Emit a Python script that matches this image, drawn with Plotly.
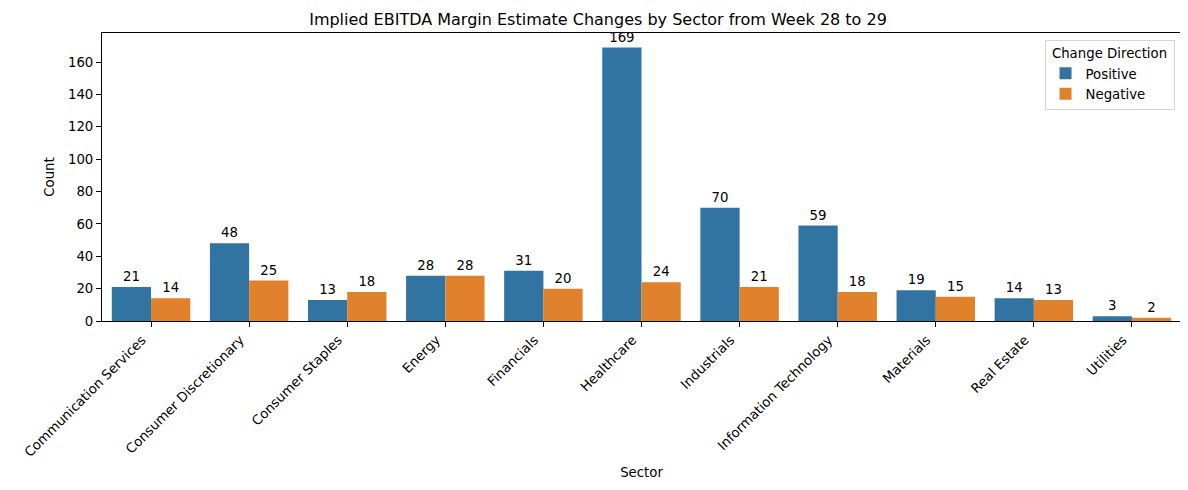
import plotly.graph_objects as go

sectors = ["Communication Services", "Consumer Discretionary", "Consumer Staples", "Energy",
           "Financials", "Healthcare", "Industrials", "Information Technology",
           "Materials", "Real Estate", "Utilities"]
positive = [21, 48, 13, 28, 31, 169, 70, 59, 19, 14, 3]
negative = [14, 25, 18, 28, 20, 24, 21, 18, 15, 13, 2]
y_ticks = [0, 20, 40, 60, 80, 100, 120, 140, 160]

FONT = "DejaVu Sans"
FS = 13.3
fig = go.Figure()
fig.add_trace(go.Bar(x=sectors, y=positive, name="Positive", marker_color="#3274a1",
                     marker_line_width=0, text=positive, textposition="outside",
                     textfont=dict(size=FS, color="black"), cliponaxis=False))
fig.add_trace(go.Bar(x=sectors, y=negative, name="Negative", marker_color="#e1812c",
                     marker_line_width=0, text=negative, textposition="outside",
                     textfont=dict(size=FS, color="black"), cliponaxis=False))

fig.update_layout(
    width=1180, height=482,
    margin=dict(l=93.5, r=6.5, t=25, b=169, autoexpand=False),
    paper_bgcolor="white", plot_bgcolor="white",
    font=dict(family=FONT, size=FS, color="black"),
    barmode="group", bargap=0.2, bargroupgap=0,
    title=dict(text="Implied EBITDA Margin Estimate Changes by Sector from Week 28 to 29",
               x=0.5, xanchor="center", y=1 - 6/482, yanchor="top",
               font=dict(size=16, color="black")),
    legend=dict(title=dict(text="\u00a0Change Direction\u00a0", side="top center", font=dict(size=FS)),
                x=0.994, y=0.976, xanchor="right", yanchor="top",
                bordercolor="#d5d5d5", borderwidth=1, bgcolor="white",
                font=dict(size=FS), itemwidth=30, tracegroupgap=2),
)
fig.update_xaxes(title=dict(text="Sector", standoff=8, font=dict(size=FS)), tickangle=-45,
                 range=[-0.5, 10.5], automargin=False, ticklabelshift=-9,
                 showline=True, linecolor="black", linewidth=1, mirror=True,
                 ticks="outside", ticklen=5, tickcolor="black", showgrid=False,
                 tickfont=dict(size=FS))
fig.update_yaxes(title=dict(text="Count", standoff=10, font=dict(size=FS)), range=[0, 178],
                 tickvals=y_ticks, automargin=False,
                 showline=True, linecolor="black", linewidth=1, mirror=True,
                 ticks="outside", ticklen=5, tickcolor="black", showgrid=False, zeroline=False,
                 tickfont=dict(size=FS))

fig.write_html("out.html")
